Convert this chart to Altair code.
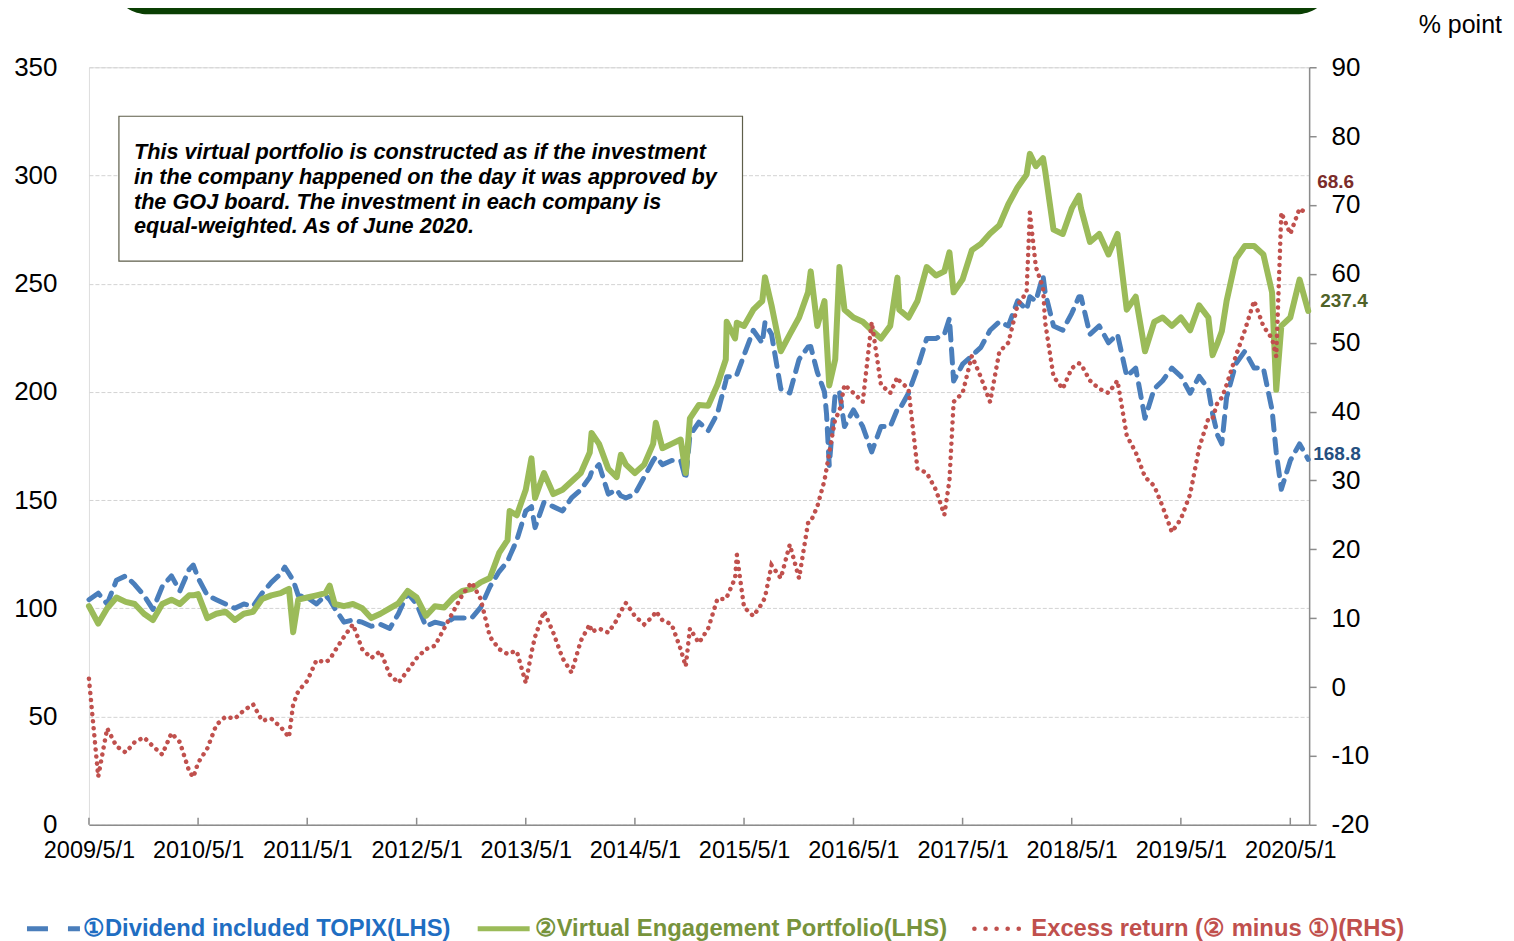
import altair as alt
import pandas as pd

FONT = "Liberation Sans"

# ---- monthly readings (first of month from 2009/5; last point end of June 2020) ----
month_start = "2009-05-01"
last_date = "2020-06-30"

portfolio = [101, 93, 100, 105, 103, 102, 97.5, 94.6, 102, 104,
             102, 106, 106.6, 95.5, 97.5, 98.4, 94.6, 97.5, 98.4, 104.3,
             106, 107, 109, 104, 105, 106, 107, 102, 101, 102,
             100, 95.5, 97.5, 100, 102.3, 108, 105, 96.5, 101, 100.4,
             105, 108, 109, 112, 114, 125.6, 131.5, 143, 154.8, 151,
             162.5, 152.8, 154.8, 158.6, 162.5, 172, 176, 164.5, 160.6, 166.4,
             162.5, 166.4, 176, 174, 176, 178, 187.8, 194, 193.6, 203.3,
             215, 224.7, 230.5, 238, 242, 240, 218.8, 226.6, 234.4, 246,
             230.5, 224.7, 215, 238, 234.4, 232.4, 228.5, 224.7, 230.5, 238,
             234.4, 242, 257.7, 253.8, 255.7, 246, 252, 265.5, 268.4, 273.2,
             277, 286.7, 294.6, 300.4, 304.3, 302.3, 275, 273, 284.8, 284.8,
             269.3, 273, 263.5, 273, 238, 244, 218.8, 232.4, 234.4, 230.5,
             234.4, 228.5, 240, 234.4, 222.7, 242, 261.5, 267.4, 267.4, 263.5,
             246, 230.5, 234.4, 251.9, 237.4]

topix = [104, 107, 102, 113, 115, 111, 106, 99.5, 110, 115,
         108, 118, 114, 106, 104, 102, 100, 102, 101, 107,
         112, 116, 116, 106, 105, 102, 106, 100, 93.6, 94.6,
         93.6, 91.7, 92.6, 90.7, 97.5, 107, 102, 91.7, 93.6, 92.6,
         95.5, 95.5, 95.5, 100.4, 110, 117, 121.7, 131.5, 145, 137.3,
         149, 147, 145, 151, 154.8, 160.6, 166.4, 152.8, 154.8, 151,
         152.8, 160.6, 168.3, 166.4, 168.3, 168.3, 180, 186, 182, 190,
         205, 207, 217, 228.5, 222.6, 226.6, 201.4, 199.5, 215, 220.8,
         209.1, 189.7, 199.4, 184, 191.7, 184, 172.3, 184, 184, 191.7,
         199.4, 211, 224.7, 224.7, 226.6, 205, 212.8, 216.7, 220.6, 228.5,
         232.4, 230.5, 242.1, 238, 242, 246, 230.5, 228.5, 236.3, 244,
         226.6, 230.5, 222.7, 226.6, 207.2, 211, 187.8, 201.4, 205.2, 211,
         207.2, 199.4, 207.2, 201.4, 180, 197.5, 213, 218.8, 211, 211,
         191.7, 155, 168.3, 176, 168.8]

excess = [1.2, -13, -6, -8.6, -9.5, -8, -7.3, -8.6, -9.8, -6.7,
          -8, -12.2, -11, -8.9, -5.5, -4.3, -4.6, -3.4, -2.5, -4.9,
          -4.6, -5.8, -7.3, -0.6, 0.9, 3.9, 3.6, 5.2, 7.3, 9.1,
          5.5, 4.2, 5.2, 1.8, 0.6, 2.4, 4.2, 5.5, 6, 8.5,
          11, 13.4, 15.2, 12.8, 7.3, 5.5, 4.8, 5.2, 0.6, 7.3,
          11, 7.9, 4.2, 2.1, 6.7, 9.1, 8.5, 7.9, 9.7, 12.2,
          10.3, 9.1, 10.3, 9.7, 9.1, 5.5, 8.5, 6.4, 8.5, 12.8,
          12.8, 15.8, 11.6, 10.3, 12.2, 17.7, 15.8, 20.7, 15.8, 23.8,
          26.2, 31.7, 39, 43.9, 42.7, 41.4, 53, 43.9, 42.7, 44.5,
          43.3, 31.7, 31.1, 28.6, 25, 41.4, 42.7, 48.1, 45, 41.4,
          48.7, 50, 55.5, 57.3, 61, 53, 45.1, 43.3, 46.3, 46.9,
          44.5, 43.3, 42.7, 44.5, 36.5, 34.1, 30.5, 29.2, 26.2, 22.5,
          24.4, 28, 34.7, 39, 41.4, 43.9, 48.1, 51.8, 56.1, 52.4,
          50.6, 68.9, 65.8, 69.5, 68.6]

# ---- extra readings at visible short-lived spikes ----
spike_dates = ["2010-04-15", "2011-02-15", "2011-03-15", "2011-07-15", "2013-03-08",
               "2013-05-20", "2013-12-07", "2014-03-15", "2014-07-10", "2014-10-18",
               "2015-03-04", "2015-04-07", "2015-07-10", "2015-12-10", "2016-01-25",
               "2016-02-10", "2016-03-15", "2016-09-25", "2017-03-18", "2017-12-12",
               "2018-01-25", "2018-05-25", "2019-08-15", "2019-09-15", "2020-03-15"]
spike_portfolio = [106, 108, 89, 110.5, 145, 169.3, 181, 171, 185.8, 162.5,
                   232.4, 232, 253, 255.7, 242, 203, 257.7, 252.8, 264.5, 310,
                   308, 290.7, 217, 228, 201]
spike_topix = [120, 119, 113, 104, 124, 147, 163, 152, 170, 159.6,
               207, 208, 232, 221, 200, 166, 200, 192, 234, 244,
               253.8, 244, 190, 176, 172]
spike_excess = [-13.1, -6.5, -2.5, 4, 5, 5, 8, 11, 11, 3,
                13, 19.2, 13, 24, 30, 34, 40, 45, 30, 68.9,
                58, 47, 39, 42, 48]

year_ticks = [f"{y}-05-01" for y in range(2009, 2021)]
left_ticks = list(range(0, 351, 50))
right_ticks = list(range(-20, 91, 10))

note_lines = ["This virtual portfolio is constructed as if the investment",
              "in the company happened on the day it was approved by",
              "the GOJ board. The investment in each company is",
              "equal-weighted. As of June 2020."]

# ---- table ----
mdates = list(pd.date_range(month_start, periods=len(portfolio), freq="MS").strftime("%Y-%m-%d"))
mdates[-1] = last_date
df = pd.DataFrame({
    "date": mdates + spike_dates,
    "portfolio": portfolio + spike_portfolio,
    "topix": topix + spike_topix,
    "excess": excess + spike_excess,
}).sort_values("date").reset_index(drop=True)

end_df = pd.DataFrame({"date": [last_date], "portfolio": [portfolio[-1]],
                       "topix": [topix[-1]], "excess": [excess[-1]]})

GRAY = "#8C8C8C"

x_enc = alt.X(
    "date:T",
    scale=alt.Scale(type="utc", domain=[alt.DateTime(year=2009, month=5, date=1, utc=True),
                                        alt.DateTime(year=2020, month=7, date=3, utc=True)]),
    axis=alt.Axis(values=[alt.DateTime(year=int(t[:4]), month=5, date=1, utc=True) for t in year_ticks],
                  labelExpr="utcFormat(datum.value, '%Y/%-m/%-d')",
                  labelOverlap=False, labelFlush=False, labelBound=False,
                  title=None, grid=False, ticks=False, tickSize=0, domain=True,
                  domainColor=GRAY, domainWidth=1.5, labelFontSize=23.5, labelColor="black",
                  labelPadding=14, labelFont=FONT),
)

left_scale = alt.Scale(domain=[0, 350], nice=False, zero=False)
left_axis = alt.Axis(values=left_ticks, grid=True, gridColor="#D3D3D3", gridDash=[4, 2],
                     gridWidth=1, domain=False, ticks=False, tickSize=0,
                     labelFontSize=26, labelColor="black", labelPadding=32, labelFont=FONT,
                     labelOverlap=False, labelFlush=False, labelExpr="datum.value + ''",
                     title=None, orient="left")
right_scale = alt.Scale(domain=[-20, 90], nice=False, zero=False)
right_axis = alt.Axis(values=right_ticks, grid=False, domain=True, domainColor=GRAY,
                      domainWidth=1.5, ticks=True, tickColor=GRAY, tickSize=7, tickWidth=1.5,
                      labelFontSize=26, labelColor="black", labelPadding=15, labelFont=FONT,
                      labelOverlap=False, labelFlush=False, labelExpr="datum.value + ''",
                      title=None, orient="right")

blue = alt.Chart(df).mark_line(color="#4A7EBB", strokeWidth=5, strokeDash=[14, 9],
                               strokeCap="round", strokeJoin="round").encode(
    x=x_enc, y=alt.Y("topix:Q", scale=left_scale, axis=left_axis))
green = alt.Chart(df).mark_line(color="#9BBB59", strokeWidth=6, strokeJoin="round",
                                strokeCap="round").encode(
    x=x_enc, y=alt.Y("portfolio:Q", scale=left_scale, axis=left_axis))
green_lbl = alt.Chart(end_df).mark_text(align="left", baseline="middle", dx=12, dy=-10,
                                        fontSize=19, fontWeight="bold", color="#4F6228",
                                        font=FONT).encode(
    x=x_enc, y=alt.Y("portfolio:Q", scale=left_scale, axis=left_axis),
    text=alt.Text("portfolio:Q", format=".1f"))
blue_lbl = alt.Chart(end_df).mark_text(align="left", baseline="middle", dx=5, dy=-5,
                                       fontSize=19, fontWeight="bold", color="#254F7F",
                                       font=FONT).encode(
    x=x_enc, y=alt.Y("topix:Q", scale=left_scale, axis=left_axis),
    text=alt.Text("topix:Q", format=".1f"))
left_layer = alt.layer(blue, green, blue_lbl, green_lbl)

red = alt.Chart(df).mark_line(color="#C0504D", strokeWidth=4.5, strokeDash=[0.1, 7],
                              strokeCap="round").encode(
    x=x_enc, y=alt.Y("excess:Q", scale=right_scale, axis=right_axis))
red_lbl = alt.Chart(end_df).mark_text(align="left", baseline="middle", dx=9, dy=-33,
                                      fontSize=19, fontWeight="bold", color="#7B2C2A",
                                      font=FONT).encode(
    x=x_enc, y=alt.Y("excess:Q", scale=right_scale, axis=right_axis),
    text=alt.Text("excess:Q", format=".1f"))
right_layer = alt.layer(red, red_lbl)

# x-axis ticks pointing inward
ticks_df = pd.DataFrame({"date": year_ticks})
xticks = alt.Chart(ticks_df).mark_rule(color=GRAY, strokeWidth=1.5).encode(
    x=x_enc, y=alt.value(758), y2=alt.value(751))

one = pd.DataFrame({"k": [0]})
banner = alt.Chart(one).mark_rect(color="#0A3F03", cornerRadius=38).encode(
    x=alt.value(21), x2=alt.value(1246), y=alt.value(-130), y2=alt.value(-53))
unit_txt = alt.Chart(one).mark_text(text="% point", align="right", baseline="middle",
                                    fontSize=25, font=FONT, color="black").encode(
    x=alt.value(1414), y=alt.value(-42))
note_box = alt.Chart(one).mark_rect(fill="white", stroke="#5E5E4A", strokeWidth=1.2).encode(
    x=alt.value(30), x2=alt.value(654), y=alt.value(49), y2=alt.value(194))
note_txt = alt.Chart(one).mark_text(text=note_lines, align="left", baseline="alphabetic",
                                    lineHeight=24.7, fontSize=21.7, fontWeight="bold",
                                    fontStyle="italic", font=FONT, color="black").encode(
    x=alt.value(45), y=alt.value(92))

# legend
LEG_Y = 862
leg_blue = alt.Chart(one).mark_rule(color="#4A7EBB", strokeWidth=5, strokeDash=[21, 20]).encode(
    x=alt.value(-62), x2=alt.value(-9), y=alt.value(LEG_Y))
leg_green = alt.Chart(one).mark_rule(color="#9BBB59", strokeWidth=5).encode(
    x=alt.value(389), x2=alt.value(441), y=alt.value(LEG_Y))
leg_red = alt.Chart(one).mark_rule(color="#C0504D", strokeWidth=4.5, strokeDash=[0.1, 11],
                                   strokeCap="round").encode(
    x=alt.value(886), x2=alt.value(937), y=alt.value(LEG_Y))
leg_t1 = alt.Chart(one).mark_text(text="①Dividend included TOPIX(LHS)", align="left",
                                  baseline="middle", fontSize=23.8, fontWeight="bold",
                                  font=FONT, color="#1F6EC2").encode(
    x=alt.value(-6), y=alt.value(LEG_Y))
leg_t2 = alt.Chart(one).mark_text(text="②Virtual Engagement Portfolio(LHS)", align="left",
                                  baseline="middle", fontSize=23.8, fontWeight="bold",
                                  font=FONT, color="#77933C").encode(
    x=alt.value(446), y=alt.value(LEG_Y))
leg_t3 = alt.Chart(one).mark_text(text="Excess return (② minus ①)(RHS)", align="left",
                                  baseline="middle", fontSize=23.8, fontWeight="bold",
                                  font=FONT, color="#C0504D").encode(
    x=alt.value(943), y=alt.value(LEG_Y))

chart = alt.layer(
    banner, unit_txt, xticks, left_layer, right_layer, note_box, note_txt,
    leg_blue, leg_green, leg_red, leg_t1, leg_t2, leg_t3
).resolve_scale(y="independent").properties(
    width=1221, height=758,
    autosize=alt.AutoSizeParams(type="none"),
    padding={"left": 81, "top": 59, "right": 197, "bottom": 118},
).configure_view(stroke=None).configure(font=FONT)

chart.save("out.html", embed_options={"renderer": "svg", "actions": False})
